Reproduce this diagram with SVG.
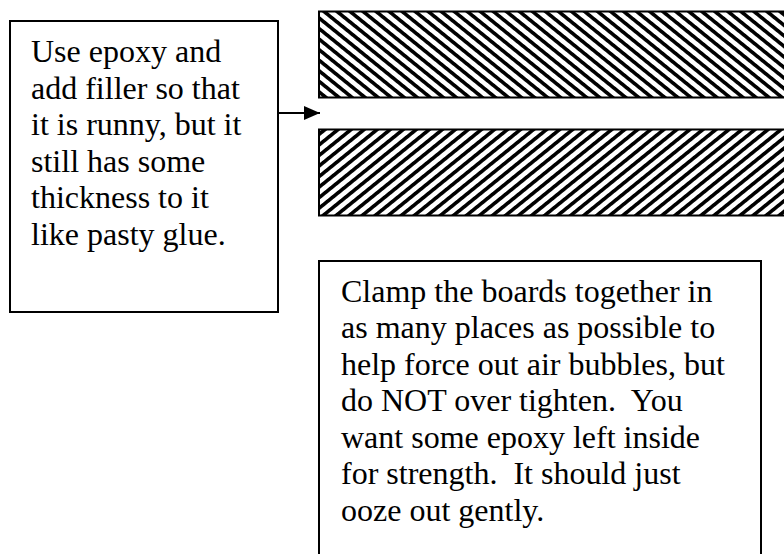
<svg xmlns="http://www.w3.org/2000/svg" width="784" height="554" viewBox="0 0 784 554">
<style>
.box{fill:#fff;stroke:#000;stroke-width:2}
.txt{font-family:"Liberation Serif","Times New Roman",serif;font-size:32px;fill:#000}
.conn{stroke:#000;stroke-width:2;fill:none}
</style>
<defs>
<pattern id="hatchDown" patternUnits="userSpaceOnUse" width="8.2" height="8.2" patternTransform="rotate(39)">
<rect width="8.2" height="8.2" fill="#fff"/>
<rect x="0" y="0" width="8.2" height="3.6" fill="#000"/>
</pattern>
<pattern id="hatchUp" patternUnits="userSpaceOnUse" width="8.2" height="8.2" patternTransform="rotate(-39)">
<rect width="8.2" height="8.2" fill="#fff"/>
<rect x="0" y="0" width="8.2" height="3.6" fill="#000"/>
</pattern>
<marker id="arrow" markerUnits="userSpaceOnUse" markerWidth="16" markerHeight="14" refX="16" refY="7" orient="auto">
<path d="M0,0 L16,7 L0,14 Z" fill="#000"/>
</marker>
</defs>
<rect width="784" height="554" fill="#fff"/>
<g id="board-top">
<rect x="319" y="11.5" width="470" height="86" fill="url(#hatchDown)" stroke="#000" stroke-width="2"/>
</g>
<g id="board-bottom">
<rect x="319" y="129.5" width="470" height="86" fill="url(#hatchUp)" stroke="#000" stroke-width="2"/>
</g>
<g id="note-epoxy">
<rect class="box" x="10" y="21" width="268" height="291"/>
<text class="txt" x="31" y="62">Use epoxy and</text>
<text class="txt" x="31" y="98.5">add filler so that</text>
<text class="txt" x="31" y="135">it is runny, but it</text>
<text class="txt" x="31" y="171.5">still has some</text>
<text class="txt" x="31" y="208">thickness to it</text>
<text class="txt" x="31" y="244.5">like pasty glue.</text>
</g>
<g id="note-clamp">
<rect class="box" x="319" y="261" width="442" height="310"/>
<text class="txt" x="341" y="301.5">Clamp the boards together in</text>
<text class="txt" x="341" y="338">as many places as possible to</text>
<text class="txt" x="341" y="374.5">help force out air bubbles, but</text>
<text class="txt" x="341" y="411" xml:space="preserve">do NOT over tighten.  You</text>
<text class="txt" x="341" y="447.5">want some epoxy left inside</text>
<text class="txt" x="341" y="484" xml:space="preserve">for strength.  It should just</text>
<text class="txt" x="341" y="520.5">ooze out gently.</text>
</g>
<g id="connectors">
<line class="conn" x1="278" y1="113" x2="320" y2="113" marker-end="url(#arrow)"/>
</g>
</svg>
